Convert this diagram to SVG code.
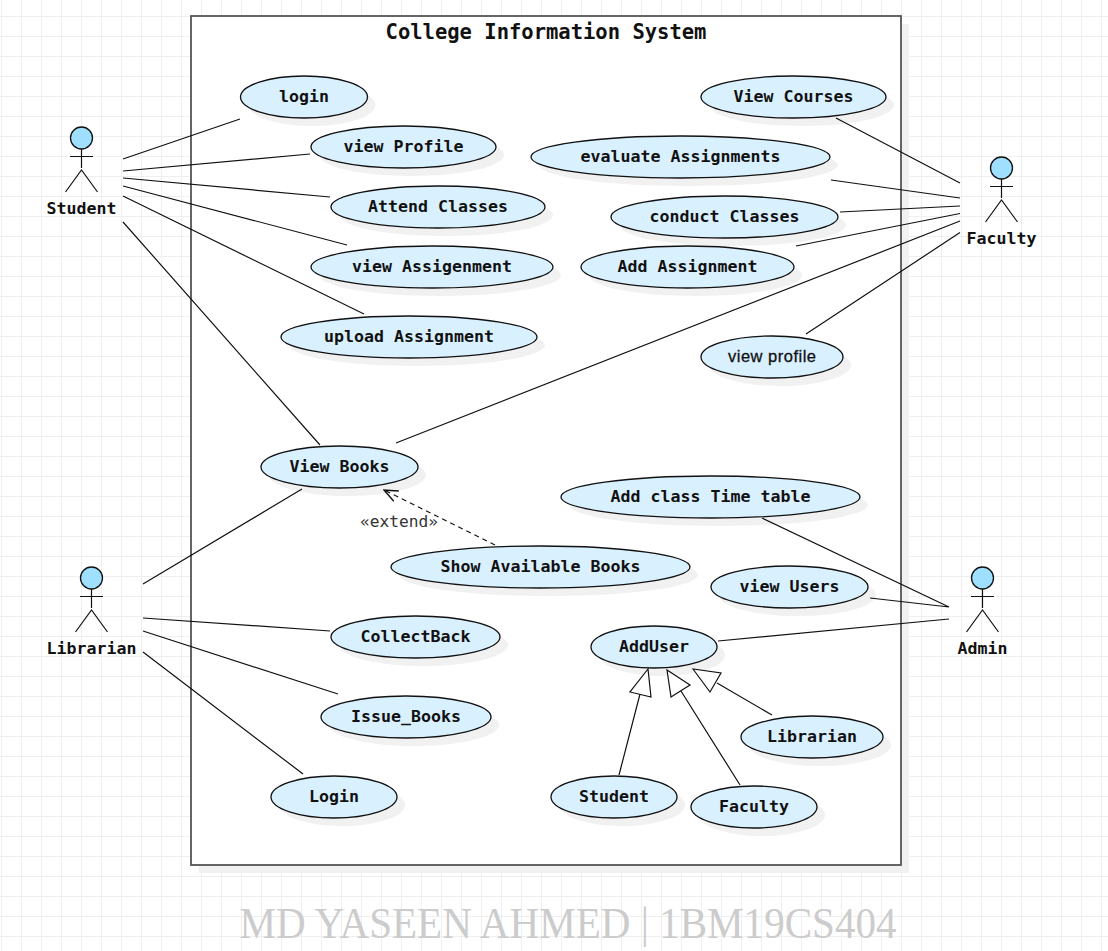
<svg xmlns="http://www.w3.org/2000/svg" width="1108" height="951" viewBox="0 0 1108 951">
<defs>
<style>
text{font-family:"DejaVu Sans Mono","Liberation Mono",monospace;font-weight:700;font-size:16.6px;fill:#111;text-anchor:middle}
.uc{fill:#d9f0ff;stroke:#111;stroke-width:1.3}
.sh{fill:#f1f1f1;stroke:none}
.l{stroke:#111;stroke-width:1.2;fill:none}
.hd{fill:#9fdfff;stroke:#111;stroke-width:1.3}
.gh{fill:#fff;stroke:#111;stroke-width:1.2}
</style>
<pattern id="grid" width="20" height="20" patternUnits="userSpaceOnUse" x="1" y="-4">
<path d="M.5 0V20M0 .5H20" stroke="#efefef" stroke-width="1" fill="none"/>
</pattern>
<marker id="open" markerUnits="userSpaceOnUse" markerWidth="16" markerHeight="16" refX="13" refY="6" orient="auto" viewBox="0 0 14 12"><path d="M1 1L13 6L1 11" fill="none" stroke="#111" stroke-width="1.2"/></marker>
<g id="stick">
<circle class="hd" cx="0" cy="0" r="11"/>
<path class="l" d="M0 11V30M-11.500 18.500H11.500M-16 54L0 32L16 54"/>
</g>
</defs>
<rect width="1108" height="951" fill="#fff"/>
<rect width="1108" height="951" fill="url(#grid)"/>
<g id="frame">
<rect x="199" y="24" width="710" height="849" fill="#f1f1f1"/>
<rect x="191" y="16" width="710" height="849" fill="#fff" stroke="#555" stroke-width="1.800"/>
<text x="546" y="39" style="font-size:20.500px">College Information System</text>
</g>
<g id="usecases">
<g id="login"><ellipse class="sh" cx="312" cy="105" rx="63.500" ry="21"/><ellipse class="uc" cx="304" cy="97" rx="63.500" ry="21"/><text x="304" y="102">login</text></g>
<g id="viewProfile"><ellipse class="sh" cx="411.500" cy="155" rx="92.500" ry="21"/><ellipse class="uc" cx="403.500" cy="147" rx="92.500" ry="21"/><text x="403.500" y="152">view Profile</text></g>
<g id="attendClasses"><ellipse class="sh" cx="446" cy="215" rx="107" ry="21"/><ellipse class="uc" cx="438" cy="207" rx="107" ry="21"/><text x="438" y="212">Attend Classes</text></g>
<g id="viewAssigenment"><ellipse class="sh" cx="440" cy="275" rx="121" ry="21"/><ellipse class="uc" cx="432" cy="267" rx="121" ry="21"/><text x="432" y="272">view Assigenment</text></g>
<g id="uploadAssignment"><ellipse class="sh" cx="417" cy="345" rx="128" ry="21"/><ellipse class="uc" cx="409" cy="337" rx="128" ry="21"/><text x="409" y="342">upload Assignment</text></g>
<g id="viewCourses"><ellipse class="sh" cx="801.500" cy="105" rx="92.500" ry="21"/><ellipse class="uc" cx="793.500" cy="97" rx="92.500" ry="21"/><text x="793.500" y="102">View Courses</text></g>
<g id="evaluateAssignments"><ellipse class="sh" cx="688.500" cy="165" rx="149.500" ry="21"/><ellipse class="uc" cx="680.500" cy="157" rx="149.500" ry="21"/><text x="680.500" y="162">evaluate Assignments</text></g>
<g id="conductClasses"><ellipse class="sh" cx="732.500" cy="225" rx="113.500" ry="21"/><ellipse class="uc" cx="724.500" cy="217" rx="113.500" ry="21"/><text x="724.500" y="222">conduct Classes</text></g>
<g id="addAssignment"><ellipse class="sh" cx="695.500" cy="275" rx="106.500" ry="21"/><ellipse class="uc" cx="687.500" cy="267" rx="106.500" ry="21"/><text x="687.500" y="272">Add Assignment</text></g>
<g id="viewProfile2"><ellipse class="sh" cx="780" cy="365" rx="71" ry="21"/><ellipse class="uc" cx="772" cy="357" rx="71" ry="21"/><text x="772" y="362" textLength="88" lengthAdjust="spacing" style="font-family:'Liberation Sans',Arial,sans-serif;font-weight:400;font-size:16.500px;stroke:#111;stroke-width:.3">view profile</text></g>
<g id="viewBooks"><ellipse class="sh" cx="347.500" cy="475" rx="78.500" ry="21"/><ellipse class="uc" cx="339.500" cy="467" rx="78.500" ry="21"/><text x="339.500" y="472">View Books</text></g>
<g id="addTimeTable"><ellipse class="sh" cx="718.500" cy="505" rx="149.500" ry="21"/><ellipse class="uc" cx="710.500" cy="497" rx="149.500" ry="21"/><text x="710.500" y="502">Add class Time table</text></g>
<g id="showAvailable"><ellipse class="sh" cx="548.500" cy="575" rx="149.500" ry="21"/><ellipse class="uc" cx="540.500" cy="567" rx="149.500" ry="21"/><text x="540.500" y="572">Show Available Books</text></g>
<g id="viewUsers"><ellipse class="sh" cx="797.500" cy="595" rx="78.500" ry="21"/><ellipse class="uc" cx="789.500" cy="587" rx="78.500" ry="21"/><text x="789.500" y="592">view Users</text></g>
<g id="addUser"><ellipse class="sh" cx="662" cy="655" rx="63" ry="21"/><ellipse class="uc" cx="654" cy="647" rx="63" ry="21"/><text x="654" y="652">AddUser</text></g>
<g id="collectBack"><ellipse class="sh" cx="423.500" cy="645" rx="84.500" ry="21"/><ellipse class="uc" cx="415.500" cy="637" rx="84.500" ry="21"/><text x="415.500" y="642">CollectBack</text></g>
<g id="issueBooks"><ellipse class="sh" cx="414" cy="725" rx="85" ry="21"/><ellipse class="uc" cx="406" cy="717" rx="85" ry="21"/><text x="406" y="722">Issue_Books</text></g>
<g id="loginLib"><ellipse class="sh" cx="342" cy="805" rx="63" ry="21"/><ellipse class="uc" cx="334" cy="797" rx="63" ry="21"/><text x="334" y="802">Login</text></g>
<g id="ucLibrarian"><ellipse class="sh" cx="820" cy="745" rx="71" ry="21"/><ellipse class="uc" cx="812" cy="737" rx="71" ry="21"/><text x="812" y="742">Librarian</text></g>
<g id="ucStudent"><ellipse class="sh" cx="622" cy="805" rx="63" ry="21"/><ellipse class="uc" cx="614" cy="797" rx="63" ry="21"/><text x="614" y="802">Student</text></g>
<g id="ucFaculty"><ellipse class="sh" cx="762" cy="815" rx="63" ry="21"/><ellipse class="uc" cx="754" cy="807" rx="63" ry="21"/><text x="754" y="812">Faculty</text></g>
</g>
<g id="connectors">
<path class="l" d="M123 159L240 119M123 171L310 154M123 178L330 197M123 186L347 245M123 196L364 314M123 222L320 445"/>
<path class="l" d="M836 118L960 183M831 180L960 198M840 212L960 206M796 246L960 213.500M396 443L960 221M806 334L960 232.500"/>
<path class="l" d="M143 584L302 489M143 618L330 631M143 631L338 694M143 652L303 774"/>
<path class="l" d="M762 518L949 607M870 598L949 607M718 641L949 619"/>
<path class="l" stroke-dasharray="5 4" marker-end="url(#open)" d="M495 545L384 490"/>
<path class="l" d="M619 775L640 694M740 785L681 691M772 715L717 683"/>
<polygon class="gh" points="648,669 630,692 651,697"/>
<polygon class="gh" points="667,670 671,697 690,685"/>
<polygon class="gh" points="693,669 710,692 721,673"/>
<text x="399" y="527" style="font-weight:400;font-size:16.200px;fill:#333;font-family:'DejaVu Sans Mono',monospace">«extend»</text>
</g>
<g id="actorStudent"><use href="#stick" x="81.500" y="138"/><text x="81.500" y="214">Student</text></g>
<g id="actorFaculty"><use href="#stick" x="1001.500" y="168"/><text x="1001.500" y="244">Faculty</text></g>
<g id="actorLibrarian"><use href="#stick" x="91.500" y="578"/><text x="91.500" y="654">Librarian</text></g>
<g id="actorAdmin"><use href="#stick" x="982.500" y="578"/><text x="982.500" y="654">Admin</text></g>
<text id="footer" x="568" y="938" textLength="657" lengthAdjust="spacingAndGlyphs" style="font-family:'Liberation Serif',serif;font-weight:400;font-size:44px;fill:#ccc">MD YASEEN AHMED | 1BM19CS404</text>
</svg>
